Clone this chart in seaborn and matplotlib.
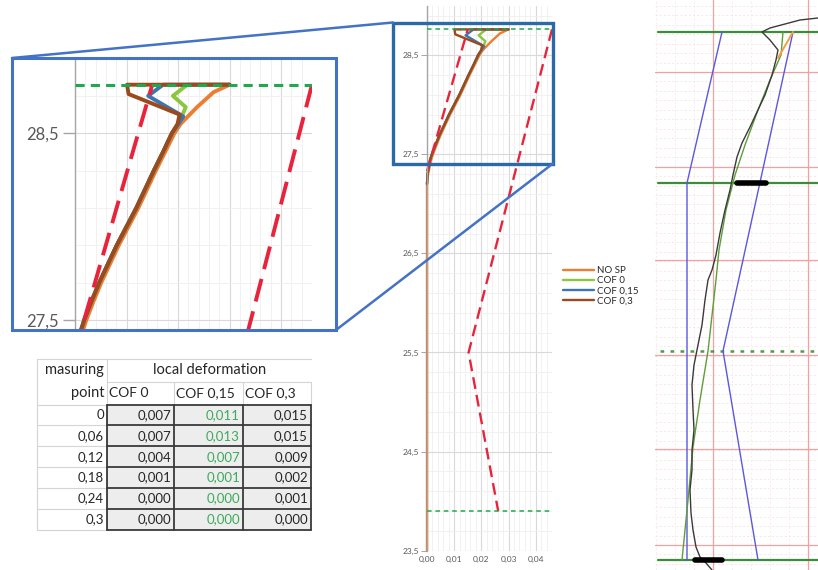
import numpy as np
import matplotlib
matplotlib.use("Agg")
import matplotlib.pyplot as plt
import seaborn as sns
from matplotlib.patches import Rectangle
from matplotlib.ticker import FixedLocator, FuncFormatter, NullFormatter

sns.set_theme(style="white")
plt.rcParams['font.family'] = ['Lato', 'DejaVu Sans']

# ---------------- data ----------------
series_names = ["NO SP", "COF 0", "COF 0,15", "COF 0,3"]
series_colors = ["#ED7D31", "#8CC63F", "#3E75B0", "#9A4A1C"]

nosp_depth = [23.5, 27.2, 27.3, 27.44, 27.5, 27.6, 27.7, 27.8, 27.9, 28.0, 28.1, 28.2, 28.3, 28.4, 28.5,
              28.55, 28.64, 28.72, 28.76]
nosp_disp = [0.0, 0.0, 0.0004, 0.0015, 0.0022, 0.0036, 0.0051, 0.0068, 0.0085, 0.0104, 0.0123, 0.0140,
             0.0157, 0.0175, 0.0193, 0.0205, 0.0237, 0.0269, 0.0300]

shared_depth = [27.2, 27.3, 27.44, 27.5, 27.6, 27.7, 27.8, 27.9, 28.0, 28.1, 28.2, 28.3, 28.4, 28.5]
shared_disp = [0.0, 0.0002, 0.0011, 0.0018, 0.0032, 0.0047, 0.0064, 0.0081, 0.0100, 0.0119, 0.0136,
               0.0153, 0.0171, 0.0188]

cof0_top_depth = [28.55, 28.64, 28.70, 28.76, 28.76]
cof0_top_disp = [0.0201, 0.0215, 0.0190, 0.0218, 0.0300]
cof015_top_depth = [28.55, 28.59, 28.70, 28.76, 28.76]
cof015_top_disp = [0.0201, 0.0210, 0.0142, 0.0171, 0.0300]
cof03_top_depth = [28.55, 28.60, 28.71, 28.76, 28.76]
cof03_top_disp = [0.0199, 0.0203, 0.0104, 0.0101, 0.0300]

top_level = 28.76
toe_level = 23.9
limit_left_depth = [27.33, 28.76]
limit_left_disp = [0.0, 0.015]
limit_right_depth = [28.76, 25.5, 23.9]
limit_right_disp = [0.046, 0.0153, 0.0262]

y_ticks = [23.5, 24.5, 25.5, 26.5, 27.5, 28.5]
x_ticks = [0.00, 0.01, 0.02, 0.03, 0.04]
inset_y_ticks = [27.5, 28.5]

# table
meas_points = ["0", "0,06", "0,12", "0,18", "0,24", "0,3"]
table_cols = ["COF 0", "COF 0,15", "COF 0,3"]
def_cof0 = [0.007, 0.007, 0.004, 0.001, 0.000, 0.000]
def_cof015 = [0.011, 0.013, 0.007, 0.001, 0.000, 0.000]
def_cof03 = [0.015, 0.015, 0.009, 0.002, 0.001, 0.000]

# right schematic panel (drawing units)
rp_blue_left_x = [722, 687, 687]
rp_blue_left_y = [32, 183, 560]
rp_blue_right_x = [793, 723, 758]
rp_blue_right_y = [32, 351, 560]
rp_black_x = [818, 800, 785, 770, 762, 770, 778, 776, 772, 765, 757, 750, 742, 737, 733, 730, 725, 720,
              716, 712, 708, 705, 702, 698, 694, 692, 693, 694, 692, 692, 690, 691, 693, 696, 700, 706, 712]
rp_black_y = [18, 20, 24, 28, 32, 40, 50, 60, 75, 95, 112, 127, 143, 157, 175, 190, 210, 233,
              255, 270, 280, 300, 325, 345, 365, 385, 410, 430, 450, 470, 490, 513, 530, 547, 557, 563, 570]
rp_green_x = [783, 781, 770, 758, 745, 735, 726, 719, 716, 708, 700, 693, 688, 682]
rp_green_y = [32, 55, 80, 110, 145, 175, 210, 250, 280, 351, 400, 447, 500, 560]
rp_orange_x = [793, 778]
rp_orange_y = [32, 58]
rp_level_lines = [32, 183, 560]
rp_dotted_level = 351
rp_red_h = [72, 167, 260, 355, 449, 545]
rp_red_v = [713, 808]
rp_bars = [(737, 766, 183), (695, 722, 560)]

# ---------------- figure ----------------
W, H = 818, 570
fig = plt.figure(figsize=(W / 100, H / 100), dpi=100)


def fbox(x0, y0, x1, y1):
    return [x0 / W, 1 - y1 / H, (x1 - x0) / W, (y1 - y0) / H]


comma1 = FuncFormatter(lambda v, p: f"{v:.1f}".replace(".", ","))
comma2 = FuncFormatter(lambda v, p: f"{v:.2f}".replace(".", ","))
profiles = [
    (nosp_disp, nosp_depth),
    (shared_disp + cof0_top_disp, shared_depth + cof0_top_depth),
    (shared_disp + cof015_top_disp, shared_depth + cof015_top_depth),
    (shared_disp + cof03_top_disp, shared_depth + cof03_top_depth),
]


def style_grid(ax, xmax):
    ax.set_xlim(0, xmax)
    ax.xaxis.set_major_locator(FixedLocator(x_ticks))
    ax.xaxis.set_minor_locator(FixedLocator(np.arange(0, xmax, 0.002)))
    ax.yaxis.set_major_locator(FixedLocator(y_ticks))
    ax.yaxis.set_minor_locator(FixedLocator(np.arange(23.5, 29.01, 0.2)))
    ax.grid(which="major", color="#D9D9D9", lw=0.8)
    ax.grid(which="minor", color="#EFEFEF", lw=0.6)
    ax.set_axisbelow(True)
    for s in ["top", "right", "bottom"]:
        ax.spines[s].set_visible(False)
    ax.spines["left"].set_color("#A6A6A6")
    ax.spines["left"].set_linewidth(1.0)
    ax.set_xlabel("")
    ax.set_ylabel("")


def draw_profiles(ax, lw_c, lw_r, dash_r, lw_g, dash_g, clip=True):
    handles = []
    for name, color, (dx, dy) in zip(series_names, series_colors, profiles):
        sns.lineplot(x=np.array(dx), y=np.array(dy), ax=ax, sort=False, estimator=None,
                     color=color, lw=lw_c, legend=False, clip_on=clip)
        ln = ax.lines[-1]
        ln.set_label(name)
        handles.append(ln)
    sns.lineplot(x=np.array(limit_left_disp), y=np.array(limit_left_depth), ax=ax, sort=False,
                 estimator=None, color="#E8243C", lw=lw_r, legend=False, clip_on=clip)
    ax.lines[-1].set_dashes(dash_r)
    sns.lineplot(x=np.array(limit_right_disp), y=np.array(limit_right_depth), ax=ax, sort=False,
                 estimator=None, color="#E8243C", lw=lw_r, legend=False, clip_on=clip)
    ax.lines[-1].set_dashes(dash_r)
    for lvl in [top_level, toe_level]:
        ax.axhline(lvl, color="#1FA84F", lw=lw_g, dashes=dash_g, zorder=5)
    return handles


# ---- middle chart ----
ax_mid = fig.add_axes(fbox(427, 5.6, 552, 550.7))
handles = draw_profiles(ax_mid, 1.7, 1.7, (5, 2.6), 1.1, (3, 2.5), clip=False)
style_grid(ax_mid, 0.046)
ax_mid.set_ylim(23.5, 29.0)
ax_mid.xaxis.set_major_formatter(comma2)
ax_mid.yaxis.set_major_formatter(comma1)
ax_mid.tick_params(axis="y", which="major", left=True, length=4, width=0.7, color="#A6A6A6",
                   labelsize=6, labelcolor="#595959", pad=2)
ax_mid.tick_params(axis="x", which="major", bottom=False, length=0, labelsize=6,
                   labelcolor="#595959", pad=3.5)
ax_mid.tick_params(which="minor", left=False, bottom=False)
ax_mid.legend(handles=handles, labels=series_names, loc="upper left",
              bbox_to_anchor=(563 / W, 1 - 266 / H), bbox_transform=fig.transFigure,
              frameon=False, fontsize=7, handlelength=3.2, handletextpad=0.25,
              labelspacing=0.12, borderaxespad=0, borderpad=0)

# ---- inset (magnified) ----
ax_in = fig.add_axes(fbox(75, 58, 312, 330))
draw_profiles(ax_in, 2.8, 2.8, (6, 2.6), 2.2, (3, 2))
style_grid(ax_in, 0.046)
ax_in.set_ylim(27.446, 28.903)
ax_in.yaxis.set_major_locator(FixedLocator(inset_y_ticks))
ax_in.yaxis.set_major_formatter(comma1)
ax_in.xaxis.set_major_formatter(NullFormatter())
ax_in.tick_params(axis="y", which="major", left=True, length=9, width=1.0, color="#A6A6A6",
                  labelsize=12, labelcolor="#595959", pad=3)
ax_in.tick_params(axis="x", which="major", bottom=False)
ax_in.tick_params(which="minor", left=False, bottom=False)

# ---- table + frames overlay ----
ax_ov = fig.add_axes([0, 0, 1, 1])
ax_ov.set_xlim(0, W)
ax_ov.set_ylim(H, 0)
ax_ov.axis("off")
ax_ov.set_zorder(10)

# zoom frames and connectors
ax_ov.add_patch(Rectangle((12, 58), 324, 272, fill=False, edgecolor="#4472C4", lw=2.2))
ax_ov.add_patch(Rectangle((393, 22.5), 160, 141, fill=False, edgecolor="#2A6AA6", lw=2.4))
ax_ov.plot([12, 393], [58, 22.5], color="#4472C4", lw=1.8)
ax_ov.plot([336, 553], [330, 163.5], color="#4472C4", lw=1.8)

# table
col_edges = [37, 107, 174, 243, 311]
row_top = 404.5
row_h = 20.9
n_rows = len(meas_points)
light = "#D4D4D4"
dark = "#3A3A3A"
ax_ov.add_patch(Rectangle((col_edges[1], row_top), col_edges[4] - col_edges[1], row_h * n_rows,
                          facecolor="#EDEDED", edgecolor="none"))
# light sheet gridlines
ax_ov.plot([col_edges[0], col_edges[4]], [359, 359], color=light, lw=0.8)
ax_ov.plot([col_edges[1], col_edges[4]], [382, 382], color=light, lw=0.8)
ax_ov.plot([col_edges[0], col_edges[1]], [row_top, row_top], color=light, lw=0.8)
for c in [col_edges[0], col_edges[1]]:
    ax_ov.plot([c, c], [359, row_top + row_h * n_rows], color=light, lw=0.8)
for c in [col_edges[2], col_edges[3], col_edges[4]]:
    ax_ov.plot([c, c], [382, row_top], color=light, lw=0.8)
for i in range(1, n_rows + 1):
    ax_ov.plot([col_edges[0], col_edges[1]], [row_top + i * row_h] * 2, color=light, lw=0.8)
# dark cell borders
for i in range(n_rows + 1):
    ax_ov.plot([col_edges[1], col_edges[4]], [row_top + i * row_h] * 2, color=dark, lw=1.3)
for c in col_edges[1:]:
    ax_ov.plot([c, c], [row_top, row_top + row_h * n_rows], color=dark, lw=1.3)

hfs = 10.5
dfs = 9.5
ax_ov.text(104, 370, "masuring", ha="right", va="center", fontsize=hfs, color="#262626")
ax_ov.text(104, 393, "point", ha="right", va="center", fontsize=hfs, color="#262626")
ax_ov.text(210, 370, "local deformation", ha="center", va="center", fontsize=hfs, color="#262626")
for c, name in zip(col_edges[1:4], table_cols):
    ax_ov.text(c + 2, 393, name, ha="left", va="center", fontsize=dfs + 0.5, color="#262626")
value_cols = [def_cof0, def_cof015, def_cof03]
value_colors = ["#262626", "#3DAA5C", "#262626"]
for i, mp in enumerate(meas_points):
    yc = row_top + (i + 0.5) * row_h
    ax_ov.text(104, yc, mp, ha="right", va="center", fontsize=dfs, color="#262626")
    for j, vals in enumerate(value_cols):
        ax_ov.text(col_edges[j + 2] - 3, yc, f"{vals[i]:.3f}".replace(".", ","), ha="right",
                   va="center", fontsize=dfs, color=value_colors[j])

# ---- right schematic panel ----
ax_r = fig.add_axes(fbox(655, 0, 818, 570))
ax_r.set_xlim(655, 818)
ax_r.set_ylim(570, 0)
ax_r.axis("off")
minor_h = np.arange(rp_red_h[0] - 9.46 * 7, 570, 9.46)
for yv in minor_h:
    ax_r.axhline(yv, color="#F6DEDE", lw=0.5, dashes=(3, 3))
for xv in np.arange(656, 818, 19):
    ax_r.axvline(xv, color="#F6E4E4", lw=0.5, dashes=(3, 3))
for yv in rp_red_h:
    ax_r.axhline(yv, color="#F2A0A0", lw=0.9)
for xv in rp_red_v:
    ax_r.axvline(xv, color="#F2A0A0", lw=0.9)
for yv in rp_level_lines:
    ax_r.plot([658, 818], [yv, yv], color="#3C8C3C", lw=1.6)
ax_r.plot([660, 818], [rp_dotted_level, rp_dotted_level], color="#4E9A4E", lw=1.8, dashes=(1.5, 2.5))
sns.lineplot(x=rp_blue_left_x, y=rp_blue_left_y, ax=ax_r, sort=False, estimator=None,
             color="#5858E0", lw=1.0, legend=False)
sns.lineplot(x=rp_blue_right_x, y=rp_blue_right_y, ax=ax_r, sort=False, estimator=None,
             color="#5858E0", lw=1.0, legend=False)
sns.lineplot(x=rp_green_x, y=rp_green_y, ax=ax_r, sort=False, estimator=None,
             color="#5E9E3A", lw=1.0, legend=False)
sns.lineplot(x=rp_black_x, y=rp_black_y, ax=ax_r, sort=False, estimator=None,
             color="#3A3A3A", lw=1.0, legend=False)
sns.lineplot(x=rp_orange_x, y=rp_orange_y, ax=ax_r, sort=False, estimator=None,
             color="#F0A040", lw=1.4, legend=False)
for x0, x1, yv in rp_bars:
    ax_r.plot([x0, x1], [yv, yv], color="black", lw=4, solid_capstyle="round")
ax_r.set_xlim(655, 818)
ax_r.set_ylim(570, 0)

fig.savefig("out.png", dpi=100)
